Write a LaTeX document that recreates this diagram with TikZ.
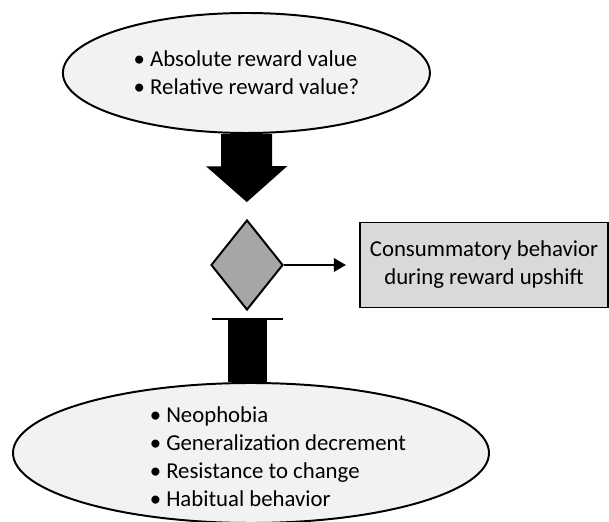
\documentclass[tikz,border=0pt]{standalone}
\usepackage{fontspec}
\setmainfont{Carlito}
\usetikzlibrary{shapes.geometric, arrows.meta, positioning}
\definecolor{ovalgray}{HTML}{F2F2F2}
\definecolor{diagray}{HTML}{A6A6A6}
\definecolor{boxgray}{HTML}{D9D9D9}

\begin{document}
\begin{tikzpicture}[every node/.style={font=\fontsize{16.2}{19.9}\selectfont},
    oval/.style={draw, ellipse, fill=ovalgray, line width=1.4pt, inner sep=0pt},
    bigarrow/.style={line width=1.275cm, -{Triangle[width=1.98cm, length=0.9cm]}, shorten >=0.425cm},
    shaft/.style={line width=0.975cm}]
                    \useasboundingbox (0,0) rectangle (15.225,13.025);
                    \node[oval, minimum width=9.175cm, minimum height=3cm, align=left] (top) at (6.16,11.2)
                        {\textbullet\ Absolute reward value\\ \textbullet\ Relative reward value?};
                    \node[draw, diamond, fill=diagray, line width=1.4pt, inner sep=0pt, minimum width=1.8cm, minimum height=2.25cm] (dia) at (6.175,6.4) {};
                    \node[draw, rectangle, fill=boxgray, line width=1.2pt, minimum width=6.2cm, minimum height=2.125cm, align=center] (box) at (12.1,6.4)
                        {Consummatory behavior\\during reward upshift};
                    \node[oval, minimum width=11.9cm, minimum height=3.5cm] (bot) at (6.275,1.7) {};
                    \node[align=left, anchor=west] (botlist) at (3.62,1.6)
                        {\textbullet\ Neophobia\\ \textbullet\ Generalization decrement\\ \textbullet\ Resistance to change\\ \textbullet\ Habitual behavior};
                    \coordinate[below=0.2cm of dia.south] (tee);
                    \draw[bigarrow] (top) -- (dia);
                    \draw[line width=1.7pt, -{Triangle[length=0.3cm, width=0.33cm]}, shorten >=0.33cm] (dia) -- (box);
                    \draw[shaft] (tee) -- (tee |- bot.north);
                    \draw[line width=1.5pt] ([xshift=-0.8875cm]tee) -- ([xshift=0.8875cm]tee);
                \end{tikzpicture}
\end{document}
